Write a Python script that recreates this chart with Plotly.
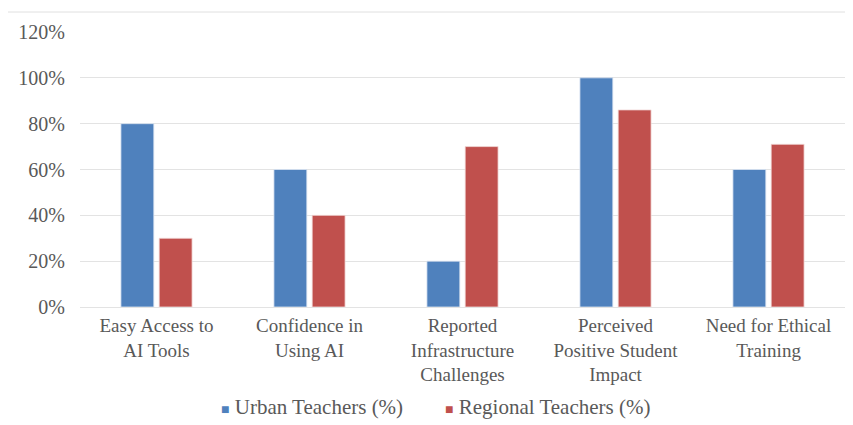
import plotly.graph_objects as go

categories = ["Easy Access to<br>AI Tools", "Confidence in<br>Using AI", "Reported<br>Infrastructure<br>Challenges",
              "Perceived<br>Positive Student<br>Impact", "Need for Ethical<br>Training"]
urban = [80, 60, 20, 100, 60]
regional = [30, 40, 70, 86, 71]
series_names = ["Urban Teachers (%)", "Regional Teachers (%)"]
series_colors = ["#4F81BD", "#C0504D"]
tick_vals = [0, 20, 40, 60, 80, 100, 120]
tick_text = ["0%", "20%", "40%", "60%", "80%", "100%", "120%"]

font = "Liberation Serif"
grey = "#595959"

fig = go.Figure()
fig.add_trace(go.Bar(x=categories, y=urban, name=series_names[0],
                     marker=dict(color=series_colors[0], line=dict(color="#DCE6F2", width=0.8))))
fig.add_trace(go.Bar(x=categories, y=regional, name=series_names[1],
                     marker=dict(color=series_colors[1], line=dict(color="#F2DCDB", width=0.8))))

legend_x = [0.1817, 0.4745]
annotations = []
for nm, col, lx in zip(series_names, series_colors, legend_x):
    annotations.append(dict(
        xref="paper", yref="paper", x=lx, y=-0.3636, xanchor="left", yanchor="middle",
        showarrow=False,
        text=f'<span style="color:{col};font-size:14px">■</span> {nm}',
        font=dict(family=font, size=21, color=grey)))

fig.update_layout(
    width=845, height=417,
    margin=dict(l=72, r=8, t=24, b=118, autoexpand=False),
    paper_bgcolor="white", plot_bgcolor="white",
    barmode="group", bargap=0.5, bargroupgap=0.14,
    font=dict(family=font, size=20, color=grey),
    showlegend=False,
    annotations=annotations,
    yaxis=dict(range=[0, 120], tickvals=tick_vals, ticktext=tick_text,
               showgrid=True, gridcolor="#E3E3E3", gridwidth=1, zeroline=False,
               showline=False, ticks="", ticklabelstandoff=14,
               tickfont=dict(family=font, size=20, color=grey)),
    xaxis=dict(showline=True, linecolor="#E3E3E3", linewidth=1, ticks="",
               ticklabelstandoff=1,
               tickfont=dict(family=font, size=19, color=grey)),
    shapes=[dict(type="line", xref="paper", yref="paper", x0=-0.1, x1=1.01,
                 y0=1.0727, y1=1.0727, line=dict(color="#E0E0E0", width=1))],
)

fig.write_html("out.html")
